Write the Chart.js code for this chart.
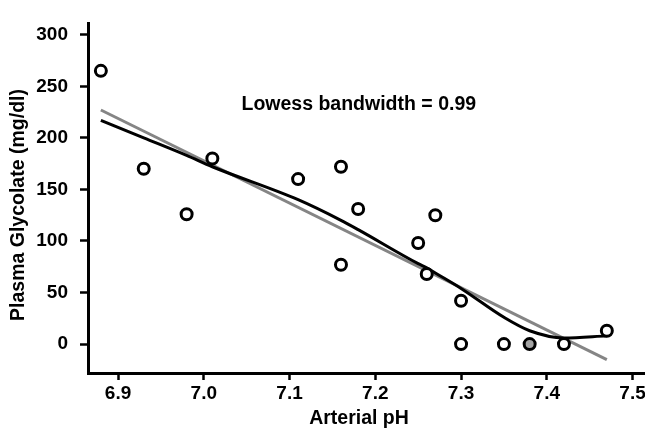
<!DOCTYPE html>
<html>
<head>
<meta charset="utf-8">
<script src="https://cdn.jsdelivr.net/npm/chart.js@4.4.1/dist/chart.umd.min.js"></script>
<style>
  html, body { margin: 0; padding: 0; background: #fff; overflow: hidden; }
  #wrap { width: 645px; height: 430px; overflow: hidden; position: relative; }
  canvas { display: block; }
</style>
</head>
<body>
<div id="wrap"><canvas id="plot" width="680" height="430"></canvas></div>
<script>
// Observed points
const phValues = [6.88, 6.93, 6.98, 7.01, 7.11, 7.16, 7.16, 7.18, 7.25, 7.26, 7.27, 7.30, 7.30, 7.35, 7.38, 7.42, 7.47];
const glycolate = [265, 170, 126, 180, 160, 172, 77, 131, 98, 68, 125, 42, 0, 0, 0, 0, 13];
const greyPoint = 14; // the shaded circle at pH 7.38

// Lowess smooth (bandwidth 0.99)
const lowessX = [6.88, 6.93, 6.98, 7.01, 7.11, 7.16, 7.18, 7.25, 7.26, 7.27, 7.30, 7.35, 7.38, 7.42, 7.47];
const lowessY = [217, 200, 183, 172, 140, 120, 111, 78, 74, 69, 54, 26, 13, 6, 8];

// Linear fit
const fitX = [6.88, 7.47];
const fitY = [227, -15];

// Axis ticks
const xTicks = [6.9, 7.0, 7.1, 7.2, 7.3, 7.4, 7.5];
const yTicks = [0, 50, 100, 150, 200, 250, 300];

const FONT = "'Liberation Sans', Arial, Helvetica, sans-serif";

function toPoints(xs, ys) {
  return xs.map((x, i) => ({ x: x, y: ys[i] }));
}

// Extra text: annotation and axis titles
const textPlugin = {
  id: "textPlugin",
  afterDraw(chart) {
    const ctx = chart.ctx;
    const xs = chart.scales.x;
    const ys = chart.scales.y;
    const area = chart.chartArea;
    ctx.save();
    ctx.fillStyle = "#000";
    ctx.font = "bold 19.5px " + FONT;
    ctx.textBaseline = "alphabetic";
    ctx.textAlign = "left";
    ctx.fillText("Lowess bandwidth = 0.99", xs.getPixelForValue(7.044), ys.getPixelForValue(227));

    ctx.textAlign = "center";
    ctx.fillText("Arterial pH", xs.getPixelForValue(7.181), area.bottom + 51);

    ctx.translate(24, 205);
    ctx.rotate(-Math.PI / 2);
    ctx.fillText("Plasma Glycolate (mg/dl)", 0, 0);
    ctx.restore();
  },
};

const ctx = document.getElementById("plot").getContext("2d");
const chart = new Chart(ctx, {
  type: "scatter",
  data: {
    datasets: [
      {
        label: "Observed",
        data: toPoints(phValues, glycolate),
        pointRadius: 5.5,
        pointBorderWidth: 3,
        pointBorderColor: "#000",
        pointBackgroundColor: (c) => (c.dataIndex === greyPoint ? "#a3a3a3" : "#fff"),
        showLine: false,
      },
      {
        label: "Lowess",
        data: toPoints(lowessX, lowessY),
        showLine: true,
        borderColor: "#000",
        borderWidth: 3,
        cubicInterpolationMode: "monotone",
        pointRadius: 0,
      },
      {
        label: "Linear",
        data: toPoints(fitX, fitY),
        showLine: true,
        borderColor: "#858585",
        borderWidth: 3,
        pointRadius: 0,
      },
    ],
  },
  options: {
    responsive: false,
    animation: false,
    devicePixelRatio: 1,
    layout: { padding: { top: 8, right: 20, bottom: 0, left: 0 } },
    plugins: {
      legend: { display: false },
      tooltip: { enabled: false },
    },
    scales: {
      x: {
        type: "linear",
        min: 6.865,
        max: 7.532,
        afterFit: (s) => { s.height = 57; },
        afterBuildTicks: (s) => { s.ticks = xTicks.map((v) => ({ value: v })); },
        border: { display: true, color: "#000", width: 3 },
        grid: { drawOnChartArea: false, drawTicks: true, tickLength: 7, tickWidth: 2.5, tickColor: "#000" },
        ticks: {
          autoSkip: false,
          maxRotation: 0,
          padding: 2,
          color: "#000",
          font: { family: FONT, size: 19, weight: "bold" },
          callback: (v) => Number(v).toFixed(1),
        },
      },
      y: {
        type: "linear",
        min: -28,
        max: 311,
        afterFit: (s) => { s.width = 88; },
        afterBuildTicks: (s) => { s.ticks = yTicks.map((v) => ({ value: v })); },
        border: { display: true, color: "#000", width: 3 },
        grid: { drawOnChartArea: false, drawTicks: true, tickLength: 8, tickWidth: 2.5, tickColor: "#000" },
        ticks: {
          padding: 12,
          color: "#000",
          font: { family: FONT, size: 19, weight: "bold" },
        },
      },
    },
  },
  plugins: [textPlugin],
});
</script>
</body>
</html>
